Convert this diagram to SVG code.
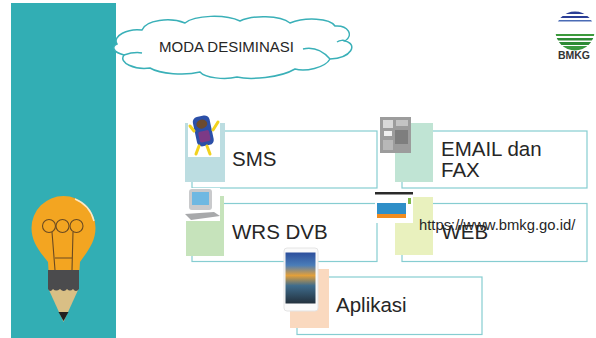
<svg xmlns="http://www.w3.org/2000/svg" width="596" height="338" viewBox="0 0 596 338">
  <style>
    .lbl { font-family: "Liberation Sans", Arial, sans-serif; fill: #262626; }
    .big { font-size: 20.5px; }
    .card { fill: none; stroke: #86CDD1; stroke-width: 1.2; }
    .fil { fill: none; stroke: #6A4A22; stroke-width: 1.1; }
  </style>
  <defs>
    <linearGradient id="appScreen" x1="0" y1="0" x2="0" y2="1">
      <stop offset="0" stop-color="#2C4E9C"/>
      <stop offset="0.25" stop-color="#4A7DB8"/>
      <stop offset="0.45" stop-color="#E3A03A"/>
      <stop offset="0.65" stop-color="#3F6C8C"/>
      <stop offset="1" stop-color="#22303C"/>
    </linearGradient>
    <clipPath id="logoClip">
      <circle cx="575" cy="31" r="19.5"/>
    </clipPath>
  </defs>

  <!-- side panel with lightbulb pencil -->
  <g id="side-panel">
    <rect x="11" y="3" width="105" height="335" fill="#32AEB4"/>
    <path d="M48.5 270 L48 262 C40 252 31.5 242 31.5 228 A32 32 0 0 1 95.5 228 C95.5 242 87 252 80 262 L79.5 270 Z" fill="#F3A521"/>
    <path d="M75 199 A32 32 0 0 1 94 221" fill="none" stroke="#FFFFFF" stroke-opacity="0.75" stroke-width="1.5"/>
    <circle class="fil" cx="49" cy="226" r="6.5"/>
    <circle class="fil" cx="62.5" cy="226" r="6.5"/>
    <circle class="fil" cx="76.5" cy="226" r="6.5"/>
    <path class="fil" d="M52 232 L55 270 M73 232 L72 270 M55 258 H72"/>
    <polygon points="48.5,289 78.5,289 63.5,322" fill="#D9BF85"/>
    <polygon points="58.5,312 68.5,312 63.5,321" fill="#231F20"/>
    <path d="M48 270 H79 V289 Q76 293 73 289 Q70 292 67 289 Q64 293 60 289 Q56 292 53 289 Q50 293 48 289 Z" fill="#4B4B4D"/>
  </g>

  <!-- title cloud -->
  <g id="title-cloud">
    <path d="M117 44 C112 36 128 28 142 30 C146 20 170 17 185 23 C195 15 225 14 240 21 C252 15 280 15 290 23 C305 17 330 18 335 26 C348 25 354 35 345 41 C358 44 352 58 330 59 C325 68 305 72 295 69 C280 78 250 80 237 77 C225 80 205 78 200 72 C185 76 160 74 150 68 C135 70 118 63 124 55 C112 52 112 46 117 44 Z" fill="#FFFFFF" stroke="#3AB0B8" stroke-width="1.5"/>
    <path d="M124 55 C130 53 136 52 142 53 M337 42 C340 40 344 40 345 41 M303 49 C312 47 322 50 330 59" fill="none" stroke="#3AB0B8" stroke-width="1.5"/>
    <text class="lbl" x="159" y="51.5" font-size="15" fill="#333333">MODA DESIMINASI</text>
  </g>

  <!-- agency logo -->
  <g id="logo">
    <circle cx="575" cy="31" r="19.5" fill="#FFFFFF"/>
    <g clip-path="url(#logoClip)">
      <rect x="555" y="11" width="40" height="3" fill="#2B3E96"/>
      <rect x="555" y="16" width="40" height="2" fill="#2B3E96"/>
      <rect x="555" y="20" width="40" height="1.5" fill="#4A6BB5"/>
      <rect x="555" y="34" width="40" height="2" fill="#3C9A3C"/>
      <rect x="555" y="38" width="40" height="2.5" fill="#2E8B35"/>
      <rect x="555" y="42" width="40" height="3" fill="#2E8B35"/>
      <rect x="555" y="46" width="40" height="5" fill="#3A9A3F"/>
    </g>
    <text x="574" y="59" font-family="Liberation Sans, Arial, sans-serif" font-size="10.5" font-weight="bold" fill="#333333" text-anchor="middle">BMKG</text>
  </g>

  <!-- SMS -->
  <g id="sms">
    <rect class="card" x="192" y="131" width="185" height="57"/>
    <rect x="185" y="123" width="40" height="59" fill="#BCDDE1"/>
    <rect x="188" y="115" width="32" height="42" fill="#FFFFFF"/>
    <g transform="rotate(-12 203 132)">
      <rect x="195" y="116" width="17" height="30" rx="5" fill="#2B4FA8"/>
      <rect x="198" y="131" width="11" height="11" rx="2" fill="#7C3A86"/>
      <ellipse cx="203.5" cy="124" rx="5.5" ry="4.5" fill="#6B4A2E"/>
    </g>
    <path d="M194 131 L190 126 M213 130 L218 122 M199 146 L196 154 M207 146 L210 154" stroke="#F2D21E" stroke-width="3" stroke-linecap="round"/>
    <text class="lbl big" x="232" y="166">SMS</text>
  </g>

  <!-- EMAIL dan FAX -->
  <g id="email-fax">
    <rect class="card" x="402" y="131" width="185" height="57"/>
    <rect x="395" y="123" width="38" height="59" fill="#C0E4D4"/>
    <rect x="380" y="117" width="31" height="36" fill="#9C9C9C"/>
    <rect x="383" y="120" width="10" height="8" fill="#D8D8D8"/>
    <rect x="396" y="120" width="12" height="6" fill="#C4C4C4"/>
    <rect x="384" y="131" width="8" height="5" fill="#EFEFEF"/>
    <rect x="395" y="130" width="13" height="14" fill="#7E7E7E"/>
    <rect x="383" y="140" width="10" height="10" fill="#B8B8B8"/>
    <text class="lbl big" x="441" y="156">EMAIL dan</text>
    <text class="lbl big" x="441" y="177">FAX</text>
  </g>

  <!-- WRS DVB -->
  <g id="wrs-dvb">
    <rect class="card" x="192" y="203.5" width="185" height="58"/>
    <rect x="186" y="196" width="38" height="60" fill="#C6E3BB"/>
    <rect x="186" y="188" width="34" height="33" fill="#FFFFFF"/>
    <rect x="189" y="189" width="23" height="21" rx="3" fill="#C9CACC"/>
    <rect x="192" y="192" width="17" height="13" fill="#6EB8E2"/>
    <polygon points="185,214 214,212 220,216 191,220" fill="#A8A9AB"/>
    <text class="lbl big" x="232" y="239">WRS DVB</text>
  </g>

  <!-- WEB -->
  <g id="web">
    <rect class="card" x="402" y="203.5" width="185" height="58"/>
    <rect x="395" y="197" width="38" height="58" fill="#E9F1BE"/>
    <rect x="375" y="192" width="38" height="31" fill="#FFFFFF"/>
    <rect x="375" y="192" width="38" height="2.5" fill="#2A2A2A"/>
    <rect x="377" y="203" width="29" height="11" fill="#2F8FC8"/>
    <rect x="377" y="214" width="29" height="4" fill="#F28C1E"/>
    <rect x="408" y="198" width="3" height="6" fill="#7FB84A"/>
    <text class="lbl big" x="441.5" y="239">WEB</text>
    <text class="lbl" x="419" y="229.5" font-size="14.8">https://www.bmkg.go.id/</text>
  </g>

  <!-- Aplikasi -->
  <g id="aplikasi">
    <rect class="card" x="297" y="277" width="185" height="57.5"/>
    <rect x="290" y="269" width="39" height="59" fill="#FAD9BF"/>
    <rect x="284" y="248" width="34" height="63" rx="3" fill="#FAFAFA" stroke="#E4E4E4" stroke-width="1"/>
    <rect x="285.5" y="252.5" width="30" height="51" fill="url(#appScreen)"/>
    <text class="lbl big" x="336" y="311.5">Aplikasi</text>
  </g>
</svg>
